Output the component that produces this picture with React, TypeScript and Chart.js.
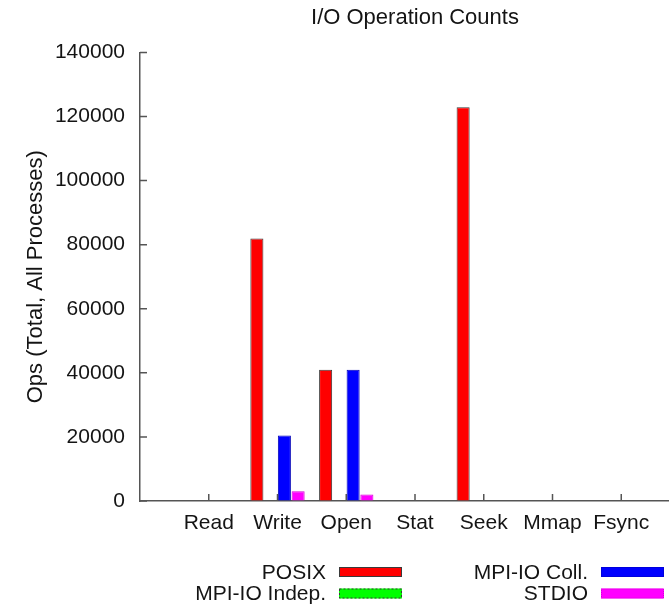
import React, { useEffect, useRef } from 'react';
import { Chart, registerables } from 'chart.js';

Chart.register(...registerables);

// ---- data ----
const categories = ['Read', 'Write', 'Open', 'Stat', 'Seek', 'Mmap', 'Fsync'];
const seriesNames = ['POSIX', 'MPI-IO Indep.', 'MPI-IO Coll.', 'STDIO'];
const posixOps = [0, 81920, 40960, 0, 122880, 0, 0];
const mpiioIndepOps = [0, 0, 0, 0, 0, 0, 0];
const mpiioCollOps = [0, 20480, 40960, 0, 0, 0, 0];
const stdioOps = [0, 3072, 2048, 0, 0, 0, 0];
const yTickValues = [0, 20000, 40000, 60000, 80000, 100000, 120000, 140000];

const FONT = '"Liberation Sans", Arial, Helvetica, sans-serif';
const AXIS_COLOR = '#555555';
const TEXT_COLOR = '#141414';

// one empty slot on each side, like the gnuplot x range
const pad = (a: (number | null)[]) => [null, ...a, null];
const padLabels = ['', ...categories, ''];

const innerTicksPlugin = {
  id: 'innerTicks',
  afterDraw(chart: any) {
    const { ctx, chartArea } = chart;
    const xs = chart.scales.x;
    const ys = chart.scales.y;
    ctx.save();
    ctx.strokeStyle = AXIS_COLOR;
    ctx.lineWidth = 1.5;
    ctx.beginPath();
    ys.ticks.forEach((t: any) => {
      const y = ys.getPixelForValue(t.value);
      ctx.moveTo(chartArea.left, y);
      ctx.lineTo(chartArea.left + 7, y);
    });
    for (let i = 1; i <= categories.length; i++) {
      const x = xs.getPixelForTick(i);
      ctx.moveTo(x, chartArea.bottom);
      ctx.lineTo(x, chartArea.bottom - 7);
    }
    ctx.stroke();
    ctx.restore();
  },
};

const gpLegendPlugin = {
  id: 'gpLegend',
  afterDraw(chart: any) {
    const { ctx, chartArea } = chart;
    ctx.save();
    ctx.font = `21px ${FONT}`;
    ctx.textBaseline = 'middle';
    chart.data.datasets.forEach((ds: any, i: number) => {
      const col = Math.floor(i / 2);
      const row = i % 2;
      const textRight = chartArea.left + (col === 0 ? 186 : 448);
      const y = chartArea.bottom + 71 + row * 21.5;
      ctx.textAlign = 'right';
      ctx.fillStyle = TEXT_COLOR;
      ctx.fillText(ds.label, textRight, y + 1);
      const bx = textRight + 13;
      const bw = 63;
      const bh = 10;
      ctx.fillStyle = ds.backgroundColor;
      ctx.fillRect(bx, y - bh / 2, bw, bh);
      ctx.setLineDash(ds.legendDash || []);
      ctx.strokeStyle = ds.borderColor;
      ctx.lineWidth = 1;
      ctx.strokeRect(bx + 0.5, y - bh / 2 + 0.5, bw - 1, bh - 1);
      ctx.setLineDash([]);
    });
    ctx.restore();
  },
};

export default function App() {
  const ref = useRef<HTMLCanvasElement>(null);

  useEffect(() => {
    if (!ref.current) return;
    const chart = new Chart(ref.current, {
      type: 'bar',
      data: {
        labels: padLabels,
        datasets: [
          {
            label: seriesNames[0],
            data: pad(posixOps),
            backgroundColor: '#ff0000',
            borderColor: '#3a3a3a',
            borderWidth: 1,
          } as any,
          {
            label: seriesNames[1],
            data: pad(mpiioIndepOps),
            backgroundColor: '#00ff00',
            borderColor: '#3a3a3a',
            borderWidth: 1,
            legendDash: [2, 2],
          },
          {
            label: seriesNames[2],
            data: pad(mpiioCollOps),
            backgroundColor: '#0000ff',
            borderColor: '#0000b8',
            borderWidth: 1,
            legendDash: [1, 1],
          },
          {
            label: seriesNames[3],
            data: pad(stdioOps),
            backgroundColor: '#ff00ff',
            borderColor: '#d800d8',
            borderWidth: 1,
            legendDash: [1, 1],
          },
        ],
      },
      options: {
        responsive: false,
        animation: false,
        devicePixelRatio: 1,
        layout: { padding: { left: 0, right: 10, top: 0, bottom: 61 } },
        datasets: { bar: { categoryPercentage: 0.8, barPercentage: 0.95 } },
        plugins: {
          legend: { display: false },
          tooltip: { enabled: false },
          title: {
            display: true,
            text: 'I/O Operation Counts',
            fullSize: false,
            color: TEXT_COLOR,
            font: { family: FONT, size: 22, weight: 'normal' },
            padding: { top: 5, bottom: 21 },
          },
        },
        scales: {
          x: {
            offset: false,
            grid: { display: true, drawOnChartArea: false, drawTicks: false },
            border: { display: true, color: AXIS_COLOR, width: 1.5 },
            ticks: {
              color: TEXT_COLOR,
              font: { family: FONT, size: 21 },
              padding: 10,
              maxRotation: 0,
              autoSkip: false,
            },
            afterFit: (s: any) => {
              s.height = 45;
            },
          },
          y: {
            min: 0,
            max: 140000,
            grid: { display: true, drawOnChartArea: false, drawTicks: false },
            border: { display: true, color: AXIS_COLOR, width: 1.5 },
            afterBuildTicks: (s: any) => {
              s.ticks = yTickValues.map((v) => ({ value: v }));
            },
            ticks: {
              color: TEXT_COLOR,
              font: { family: FONT, size: 21 },
              padding: 15,
              callback: (v: any) => String(v),
            },
            title: {
              display: true,
              text: 'Ops (Total, All Processes)',
              color: TEXT_COLOR,
              font: { family: FONT, size: 22 },
              padding: { top: 23, bottom: 0 },
            },
            afterFit: (s: any) => {
              s.width = 140;
            },
          },
        },
      } as any,
      plugins: [innerTicksPlugin, gpLegendPlugin],
    });
    return () => chart.destroy();
  }, []);

  return (
    <div
      style={{
        position: 'fixed',
        left: 0,
        top: 0,
        width: 669,
        height: 607,
        overflow: 'hidden',
        background: '#ffffff',
      }}
    >
      <canvas ref={ref} width={700} height={607} style={{ display: 'block' }} />
    </div>
  );
}
